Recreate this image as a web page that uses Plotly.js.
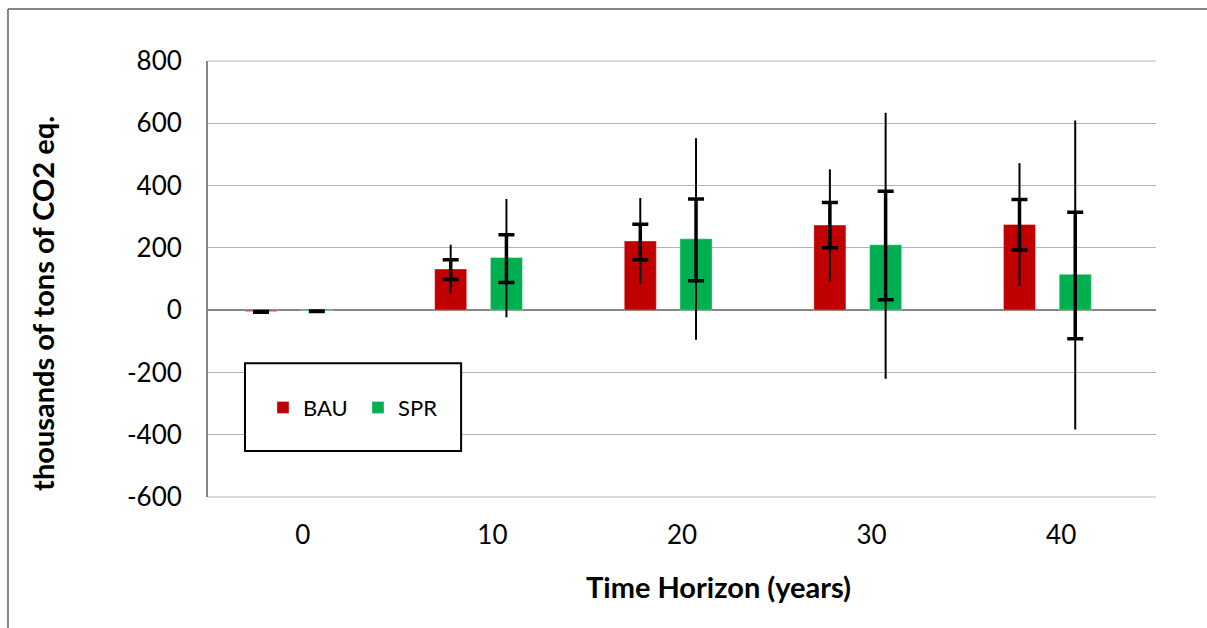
<!DOCTYPE html>
<html>
<head>
<meta charset="utf-8">
<script src="https://cdn.plot.ly/plotly-3.0.1.min.js"></script>
<style>
  html, body { margin: 0; padding: 0; background: #fff; }
  #chart { width: 1207px; height: 628px; }
</style>
</head>
<body>
<div id="chart"></div>
<script>
// Time horizons (years)
const horizons = [0, 10, 20, 30, 40];

// Bar values (thousands of tons of CO2 eq.)
const bauValues = [-4, 132, 222, 273, 275];
const sprValues = [-3, 169, 229, 210, 115];

// Outer range (thin whiskers)
const bauLow  = [-7, 53, 84, 93, 78];
const bauHigh = [-3, 210, 360, 452, 472];
const sprLow  = [-5, -23, -95, -220, -383];
const sprHigh = [-2, 357, 552, 634, 609];

// Inner range (thick whiskers with caps)
const bauInnerLow  = [-7, 98, 162, 200, 193];
const bauInnerHigh = [-4, 162, 276, 346, 355];
const sprInnerLow  = [-4, 89, 94, 33, -92];
const sprInnerHigh = [-3, 242, 357, 382, 314];

const yTicks = [-600, -400, -200, 0, 200, 400, 600, 800];

const BAU_COLOR = '#C00000';
const SPR_COLOR = '#00B050';
const FONT = 'Lato, "Open Sans", sans-serif';

// layout offsets in axis units (category spacing = 10)
const BAU_SHIFT = -2.2, SPR_SHIFT = 0.74, BAR_W = 1.69;

const xb = horizons.map(h => h + BAU_SHIFT);
const xs = horizons.map(h => h + SPR_SHIFT);

function err(vals, lo, hi, thick, w) {
  return {
    type: 'data', symmetric: false, visible: true,
    array: hi.map((v, i) => v - vals[i]),
    arrayminus: lo.map((v, i) => vals[i] - v),
    color: '#000', thickness: thick, width: w
  };
}

const traces = [
  {
    type: 'bar', name: 'BAU', x: xb, y: bauValues, width: BAR_W,
    marker: { color: BAU_COLOR, line: { color: 'rgba(255,255,255,0.35)', width: 1 } },
    error_y: err(bauValues, bauLow, bauHigh, 2, 0), hoverinfo: 'skip'
  },
  {
    type: 'bar', name: 'SPR', x: xs, y: sprValues, width: BAR_W,
    marker: { color: SPR_COLOR, line: { color: 'rgba(255,255,255,0.35)', width: 1 } },
    error_y: err(sprValues, sprLow, sprHigh, 2, 0), hoverinfo: 'skip'
  },
  {
    type: 'scatter', mode: 'markers', x: xb, y: bauValues, showlegend: false,
    marker: { size: 1, opacity: 0 }, hoverinfo: 'skip',
    error_y: err(bauValues, bauInnerLow, bauInnerHigh, 3.5, 8)
  },
  {
    type: 'scatter', mode: 'markers', x: xs, y: sprValues, showlegend: false,
    marker: { size: 1, opacity: 0 }, hoverinfo: 'skip',
    error_y: err(sprValues, sprInnerLow, sprInnerHigh, 3.5, 8)
  }
];

const layout = {
  width: 1207, height: 628,
  margin: { l: 208, r: 51, t: 61, b: 131, pad: 0 },
  paper_bgcolor: '#fff', plot_bgcolor: '#fff',
  font: { family: FONT, color: '#000', size: 26 },
  barmode: 'overlay',
  showlegend: true,
  legend: {
    orientation: 'h', x: 0.058, y: 0.205, xanchor: 'left', yanchor: 'middle',
    bgcolor: 'rgba(0,0,0,0)', borderwidth: 0,
    font: { family: FONT, size: 22, color: '#000' },
    entrywidth: 50, entrywidthmode: 'pixels'
  },
  xaxis: {
    range: [-5, 45], tickmode: 'array', tickvals: horizons,
    ticktext: horizons.map(String),
    showgrid: false, zeroline: false, showline: false, ticks: '',
    ticklabelstandoff: 20,
    tickfont: { family: FONT, size: 26, color: '#000' }
  },
  yaxis: {
    range: [-600, 800], tickmode: 'array', tickvals: yTicks,
    ticktext: yTicks.map(String),
    showgrid: true, gridcolor: '#B3B3B3', gridwidth: 1,
    zeroline: true, zerolinecolor: '#868686', zerolinewidth: 2,
    showline: true, linecolor: '#868686', linewidth: 2,
    ticks: '', ticklabelstandoff: 19,
    tickfont: { family: FONT, size: 26, color: '#000' }
  },
  shapes: [
    { type: 'line', xref: 'paper', yref: 'paper', x0: 0, x1: 1, y0: 1, y1: 1,
      line: { color: '#B3B3B3', width: 1 }, layer: 'below' },
    { type: 'line', xref: 'paper', yref: 'paper', x0: 0, x1: 1, y0: 0, y1: 0,
      line: { color: '#B3B3B3', width: 1 }, layer: 'below' },
    { type: 'rect', xref: 'paper', yref: 'paper', x0: 0.039, x1: 0.267, y0: 0.1055, y1: 0.307,
      line: { color: '#000', width: 2 }, fillcolor: '#fff', layer: 'above' },
    { type: 'line', xref: 'paper', yref: 'paper', x0: -0.211, x1: -0.211, y0: -0.4, y1: 1.119,
      line: { color: '#868686', width: 2 } },
    { type: 'line', xref: 'paper', yref: 'paper', x0: -0.211, x1: 1.2, y0: 1.119, y1: 1.119,
      line: { color: '#868686', width: 2 } }
  ],
  annotations: [
    { text: '<b>thousands of tons of CO2 eq.</b>', xref: 'paper', yref: 'paper',
      x: -0.174, y: 0.443, xanchor: 'center', yanchor: 'middle', textangle: -90, showarrow: false,
      font: { family: FONT, size: 29, color: '#000' } },
    { text: '<b>Time Horizon (years)</b>', xref: 'paper', yref: 'paper',
      x: 0.539, y: -0.206, xanchor: 'center', yanchor: 'middle', showarrow: false,
      font: { family: FONT, size: 29, color: '#000' } }
  ]
};

Plotly.newPlot('chart', traces, layout, { staticPlot: true, displayModeBar: false });
</script>
</body>
</html>
